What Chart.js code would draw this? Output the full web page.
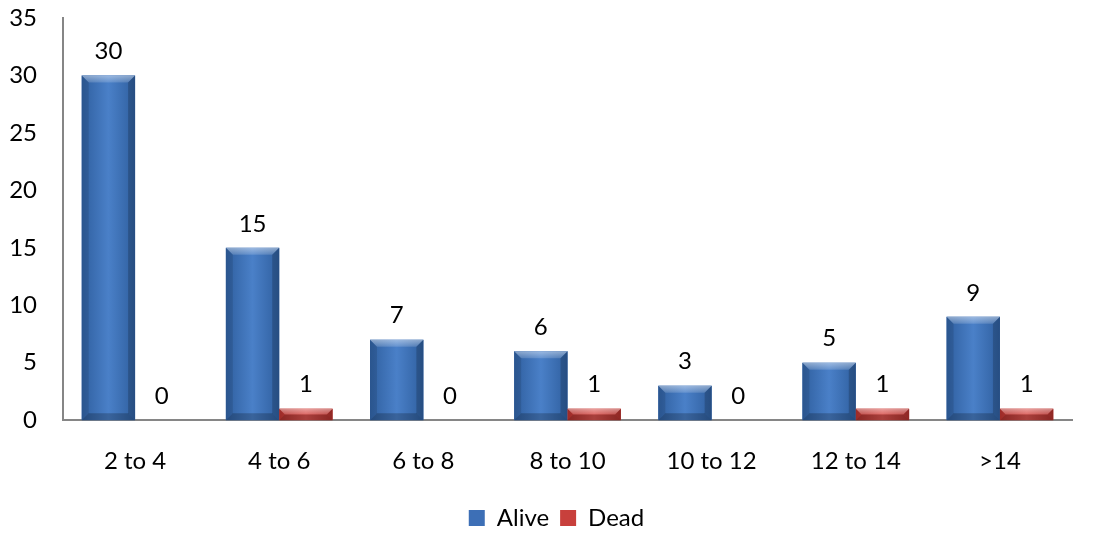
<!DOCTYPE html>
<html>
<head>
<meta charset="utf-8">
<script src="https://cdn.jsdelivr.net/npm/chart.js@4/dist/chart.umd.min.js"></script>
<style>
  html, body { margin: 0; padding: 0; background: #fff; }
  #wrap { width: 1096px; height: 552px; }
</style>
</head>
<body>
<div id="wrap"><canvas id="c" width="1096" height="552"></canvas></div>
<script>
const categories = ['2 to 4', '4 to 6', '6 to 8', '8 to 10', '10 to 12', '12 to 14', '>14'];
const alive = [30, 15, 7, 6, 3, 5, 9];
const dead = [0, 1, 0, 1, 0, 1, 1];
const yTicks = [0, 5, 10, 15, 20, 25, 30, 35];

const FONT = 'Lato, "Open Sans", sans-serif';
const SIZE = 24;

// Shaded bodies for each series: darker at the edges, lighter in the middle
const shades = {
  Alive: { edge: '#2f5f9f', mid: '#4a80c8' },
  Dead:  { edge: '#b0302c', mid: '#d9524e' }
};

// Bevelled bars plus value labels above them
const bevelAndLabels = {
  id: 'bevelAndLabels',
  afterDatasetsDraw(chart) {
    const ctx = chart.ctx;
    chart.data.datasets.forEach((ds, di) => {
      const meta = chart.getDatasetMeta(di);
      const sh = shades[ds.label];
      meta.data.forEach((bar, i) => {
        const l = bar.x - bar.width / 2, r = bar.x + bar.width / 2;
        const t = Math.min(bar.y, bar.base), b = Math.max(bar.y, bar.base);
        const h = b - t;
        if (h > 0.5) {
          const s = Math.min(7, h / 2);
          ctx.save();
          const g = ctx.createLinearGradient(l, 0, r, 0);
          g.addColorStop(0, sh.edge);
          g.addColorStop(0.5, sh.mid);
          g.addColorStop(1, sh.edge);
          ctx.fillStyle = g;
          ctx.fillRect(l, t, r - l, h);
          // top face highlight
          const gt = ctx.createLinearGradient(0, t, 0, t + s);
          gt.addColorStop(0, 'rgba(255,255,255,0.45)');
          gt.addColorStop(1, 'rgba(255,255,255,0.15)');
          ctx.fillStyle = gt;
          ctx.beginPath();
          ctx.moveTo(l, t); ctx.lineTo(r, t); ctx.lineTo(r - s, t + s); ctx.lineTo(l + s, t + s); ctx.closePath();
          ctx.fill();
          // left side
          ctx.fillStyle = 'rgba(0,0,0,0.10)';
          ctx.beginPath();
          ctx.moveTo(l, t); ctx.lineTo(l + s, t + s); ctx.lineTo(l + s, b - s); ctx.lineTo(l, b); ctx.closePath();
          ctx.fill();
          // right side
          ctx.fillStyle = 'rgba(0,0,0,0.18)';
          ctx.beginPath();
          ctx.moveTo(r, t); ctx.lineTo(r - s, t + s); ctx.lineTo(r - s, b - s); ctx.lineTo(r, b); ctx.closePath();
          ctx.fill();
          // bottom edge
          ctx.fillStyle = 'rgba(0,0,0,0.22)';
          ctx.beginPath();
          ctx.moveTo(l, b); ctx.lineTo(r, b); ctx.lineTo(r - s, b - s); ctx.lineTo(l + s, b - s); ctx.closePath();
          ctx.fill();
          ctx.restore();
        }
        // value label
        ctx.save();
        ctx.font = SIZE + 'px ' + FONT;
        ctx.fillStyle = '#000';
        ctx.textAlign = 'center';
        ctx.textBaseline = 'middle';
        ctx.fillText(String(ds.data[i]), bar.x, t - 24);
        ctx.restore();
      });
    });
  }
};

// Centre the legend under the plot area rather than the whole canvas
const legendShift = {
  id: 'legendShift',
  afterLayout(chart) {
    const lg = chart.legend;
    if (!lg) return;
    const dx = (chart.chartArea.left + chart.chartArea.right) / 2 - (lg.left + lg.right) / 2 - 11;
    lg.left += dx;
    lg.right += dx;
  }
};

new Chart(document.getElementById('c'), {
  type: 'bar',
  data: {
    labels: categories,
    datasets: [
      { label: 'Alive', data: alive, backgroundColor: '#3d6fb6', borderWidth: 0 },
      { label: 'Dead', data: dead, backgroundColor: '#c8403c', borderWidth: 0 }
    ]
  },
  options: {
    responsive: false,
    animation: false,
    layout: { padding: { top: 18, right: 24, bottom: 12, left: 0 } },
    datasets: { bar: { categoryPercentage: 0.74, barPercentage: 1.0 } },
    scales: {
      x: {
        grid: { display: false },
        border: { display: true, color: '#868686', width: 2 },
        ticks: { color: '#000', font: { family: FONT, size: SIZE }, padding: 19 }
      },
      y: {
        min: 0, max: 35,
        afterBuildTicks(scale) { scale.ticks = yTicks.map(v => ({ value: v })); },
        afterFit(scale) {
          scale.width = 63;
          scale.paddingTop = 0;
          scale.paddingBottom = 0;
        },
        grid: { display: false },
        border: { display: true, color: '#868686', width: 2 },
        ticks: { color: '#000', font: { family: FONT, size: SIZE }, padding: 18 }
      }
    },
    plugins: {
      legend: {
        position: 'bottom',
        labels: {
          color: '#000',
          font: { family: FONT, size: SIZE },
          boxWidth: 16, boxHeight: 16, padding: 11
        }
      },
      tooltip: { enabled: false }
    }
  },
  plugins: [bevelAndLabels, legendShift]
});
</script>
</body>
</html>
